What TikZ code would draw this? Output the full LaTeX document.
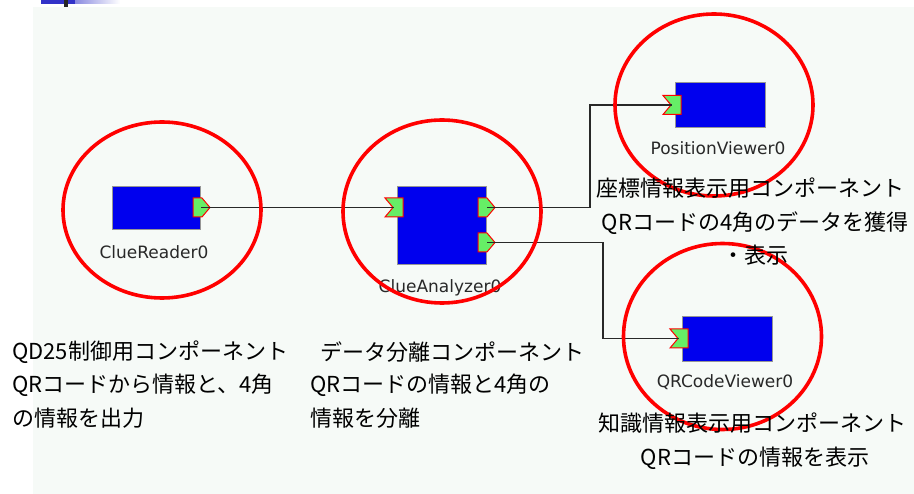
\documentclass[tikz,border=0pt]{standalone}
\usepackage{fontspec}
\newfontfamily\jpfont{Noto Sans CJK JP}
\newfontfamily\lblfont{DejaVu Sans}
\definecolor{panelbg}{RGB}{246,250,247}
\definecolor{compblue}{RGB}{0,0,238}
\definecolor{compedge}{RGB}{150,150,150}
\definecolor{portgreen}{RGB}{102,238,102}
\definecolor{linegray}{RGB}{40,40,40}
\definecolor{lbltext}{RGB}{40,40,40}
\definecolor{decoblue}{RGB}{50,50,200}
\begin{document}
\begin{tikzpicture}[x=1pt,y=-1pt,
  compbox/.style={draw=compedge, fill=compblue, line width=1pt, inner sep=0pt},
  complabel/.style={font=\lblfont\fontsize{17}{19}\selectfont, text=lbltext, inner sep=0pt},
  jptext/.style={font=\jpfont\fontsize{22}{24}\selectfont, text=black, inner sep=0pt},
  conn/.style={draw=linegray, line width=1.4pt},
  ring/.style={draw=red, line width=3.6pt},
  portstyle/.style={fill=portgreen, draw=red, line width=1pt, line join=miter},
  outport/.pic={\path[portstyle] (0,0) -- (9,0) -- (17,9.5) -- (9,19) -- (0,19) -- cycle;},
  inport/.pic={\path[portstyle] (0,0) -- (18,0) -- (18,19) -- (0,19) -- (8,9.5) -- cycle;}
]
\useasboundingbox (0,0) rectangle (914,494);
% background panel
\fill[white] (0,0) rectangle (914,494);
\fill[panelbg] (33,7) rectangle (914,494);
% top-left decoration
\shade[left color=decoblue, right color=white] (41,0) rectangle (120,4);
\fill[decoblue] (41,0) rectangle (75,4);
\fill[black!85] (64,0) rectangle (68,7);

% components
\node[compbox, minimum width=88pt, minimum height=43pt] (cr) at (156,208.5) {};
\node[compbox, minimum width=89pt, minimum height=78pt] (ca) at (441.5,226) {};
\node[compbox, minimum width=90pt, minimum height=45pt] (pv) at (720,105.5) {};
\node[compbox, minimum width=90pt, minimum height=45pt] (qv) at (727,339.5) {};

% ports
\pic at (193,198) {outport};
\pic at (385,198) {inport};
\pic at (478,198) {outport};
\pic at (478,233) {outport};
\pic at (663,95.5) {inport};
\pic at (670,329) {inport};

% connector end points
\coordinate (cr-out) at (201,207.5);
\coordinate (ca-in) at (394,207.5);
\coordinate (ca-out1) at (487,207.5);
\coordinate (ca-out2) at (487,242.5);
\coordinate (pv-in) at (672,105);
\coordinate (qv-in) at (679,338.5);

\draw[conn] (cr-out) -- (ca-in);
\draw[conn] (ca-out1) -- ++(103,0) |- (pv-in);
\draw[conn] (ca-out2) -- ++(116,0) |- (qv-in);

% component labels
\node[complabel] (crl) at (154,252) {ClueReader0};
\node[complabel] (cal) at (440,288) {ClueAnalyzer0};
\node[complabel] (pvl) at (718,148) {PositionViewer0};
\node[complabel] (qvl) at (725,382) {QRCodeViewer0};

% red rings
\draw[ring] (162,210) ellipse [x radius=99, y radius=88];
\draw[ring] (442,211.5) ellipse [x radius=99, y radius=91.5];
\draw[ring] (714,105) ellipse [x radius=99, y radius=91];
\draw[ring] (722.5,336.5) ellipse [x radius=99, y radius=93];

% descriptions
\node[jptext, anchor=west] (d1a) at (12,352) {QD25制御用コンポーネント};
\node[jptext, anchor=west] (d1b) at (12,385) {QRコードから情報と、4角};
\node[jptext, anchor=west] (d1c) at (12,418) {の情報を出力};
\node[jptext, anchor=west] (d2a) at (320,352) {データ分離コンポーネント};
\node[jptext, anchor=west] (d2b) at (310,385) {QRコードの情報と4角の};
\node[jptext, anchor=west] (d2c) at (310,418) {情報を分離};
\node[jptext] (d3a) at (750,188) {座標情報表示用コンポーネント};
\node[jptext] (d3b) at (755,223) {QRコードの4角のデータを獲得};
\node[jptext] (d3c) at (755,255) {・表示};
\node[jptext] (d4a) at (752,423) {知識情報表示用コンポーネント};
\node[jptext] (d4b) at (755,458) {QRコードの情報を表示};
\end{tikzpicture}
\end{document}
